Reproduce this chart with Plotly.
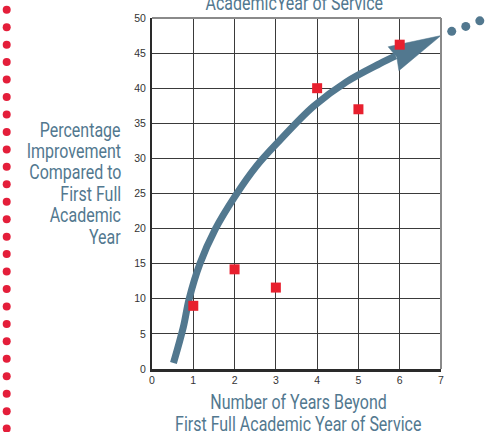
import plotly.graph_objects as go

# ---- data ----
years = [1, 2, 3, 4, 5, 6]
improvement = [9.0, 14.2, 11.6, 40.0, 37.0, 46.2]

# trend arrow path
trend_x = [0.52, 0.76, 0.90, 1.16, 1.53, 2.01, 2.53, 3.10, 3.91, 4.71, 5.52, 5.90]
trend_y = [0.85, 6.0, 10.0, 15.0, 19.9, 24.6, 28.9, 32.6, 37.4, 40.9, 43.5, 44.6]
head_x = [7.0, 5.72, 5.93, 5.98, 7.0]
head_y = [47.5, 45.9, 44.4, 42.5, 47.5]
tail_dots_x = [7.26, 7.60, 7.94]
tail_dots_y = [48.1, 48.8, 49.6]

x_ticks = [0, 1, 2, 3, 4, 5, 6, 7]
y_ticks = [0, 5, 10, 15, 20, 25, 30, 35, 40, 45, 50]

title_text = "AcademicYear of Service"
x_title_lines = ["Number of Years Beyond", "First Full Academic Year of Service"]
y_title_lines = ["Percentage", "Improvement", "Compared to", "First Full", "Academic", "Year"]

# ---- style ----
W, H = 490, 432
ML, MR, MT, MB = 152, 49, 15, 63
PW, PH = W - ML - MR, H - MT - MB
X_RANGE = [0, 7]
Y_RANGE = [0, 50]
BLUE = "#52788f"
RED = "#e8202e"
LABEL_FONT = "Roboto, Liberation Sans, sans-serif"
LABEL_SIZE = 19.5
TICK_FONT = dict(family="Liberation Sans, Arial, sans-serif", size=10.5, color="#333")


def px_to_paper_x(px):
    return (px - ML) / PW


def px_to_paper_y(py):
    return (H - MB - py) / PH


fig = go.Figure()

fig.add_trace(go.Scatter(x=trend_x, y=trend_y, mode="lines",
                         line=dict(color=BLUE, width=7, shape="spline"),
                         hoverinfo="skip", showlegend=False))
fig.add_trace(go.Scatter(x=head_x, y=head_y, mode="lines", fill="toself",
                         fillcolor=BLUE, line=dict(color=BLUE, width=0.5),
                         hoverinfo="skip", showlegend=False))
fig.add_trace(go.Scatter(x=years, y=improvement, mode="markers",
                         marker=dict(symbol="square", color=RED, size=10),
                         cliponaxis=False, showlegend=False))

shapes = []
# top and right frame
shapes.append(dict(type="line", xref="paper", yref="paper", x0=0, x1=1, y0=1, y1=1,
                   line=dict(color="#8a8a8a", width=2)))
shapes.append(dict(type="line", xref="paper", yref="paper", x0=1, x1=1, y0=0, y1=1,
                   line=dict(color="#8a8a8a", width=2)))
# dots continuing the arrow beyond the plot area
for tx, ty in zip(tail_dots_x, tail_dots_y):
    shapes.append(dict(type="circle", xref="paper", yref="paper",
                       xsizemode="pixel", ysizemode="pixel",
                       xanchor=(tx - X_RANGE[0]) / (X_RANGE[1] - X_RANGE[0]),
                       yanchor=(ty - Y_RANGE[0]) / (Y_RANGE[1] - Y_RANGE[0]),
                       x0=-4.5, x1=4.5, y0=-4.5, y1=4.5,
                       fillcolor=BLUE, line=dict(width=0)))
# decorative red dotted border on the left
for k in range(25):
    py = 6.7 + 17.6 * k
    shapes.append(dict(type="circle", xref="paper", yref="paper",
                       xsizemode="pixel", ysizemode="pixel",
                       xanchor=px_to_paper_x(6.7), yanchor=px_to_paper_y(py),
                       x0=-4, x1=4, y0=-4, y1=4,
                       fillcolor="#e41e3a", line=dict(width=0)))

label_font = dict(family=LABEL_FONT, size=LABEL_SIZE, color=BLUE)
annotations = [
    dict(text=title_text, xref="paper", yref="paper",
         x=px_to_paper_x(294), y=px_to_paper_y(0), xanchor="center", yanchor="middle",
         showarrow=False, font=label_font),
]
for i, line in enumerate(y_title_lines):
    annotations.append(dict(text=line, xref="paper", yref="paper",
                            x=px_to_paper_x(123), y=px_to_paper_y(128 + 21.6 * i),
                            xanchor="right", yanchor="middle", align="right",
                            showarrow=False, font=label_font))
for i, line in enumerate(x_title_lines):
    annotations.append(dict(text=line, xref="paper", yref="paper",
                            x=px_to_paper_x(298), y=px_to_paper_y(402.5 + 22 * i),
                            xanchor="center", yanchor="middle",
                            showarrow=False, font=label_font))

fig.update_layout(
    width=W, height=H,
    margin=dict(l=ML, r=MR, t=MT, b=MB),
    paper_bgcolor="white", plot_bgcolor="white",
    shapes=shapes, annotations=annotations,
    xaxis=dict(range=X_RANGE, tickvals=x_ticks, showgrid=True,
               gridcolor="#3a3a3a", gridwidth=1.3, zeroline=False,
               showline=True, linecolor="#2a2a2a", linewidth=2.5,
               ticks="", ticklabelstandoff=0, tickfont=TICK_FONT),
    yaxis=dict(range=Y_RANGE, tickvals=y_ticks, showgrid=True,
               gridcolor="#3a3a3a", gridwidth=1.3, zeroline=False,
               showline=True, linecolor="#2a2a2a", linewidth=2,
               ticks="", ticklabelstandoff=2, tickfont=TICK_FONT),
)

# condensed look for the label texts (the reference uses a condensed face)
post = """
document.body.style.margin = '0';
var gd = document.getElementById('{plot_id}');
gd.querySelectorAll('.annotation-text').forEach(function (t) {
  var a = t.getAttribute('text-anchor');
  t.style.transformBox = 'fill-box';
  t.style.transformOrigin = (a === 'end') ? 'right center' : ((a === 'start') ? 'left center' : 'center center');
  t.style.transform = 'scaleX(0.82)';
});
"""

fig.write_html("out.html", config={"displayModeBar": False}, post_script=post)
